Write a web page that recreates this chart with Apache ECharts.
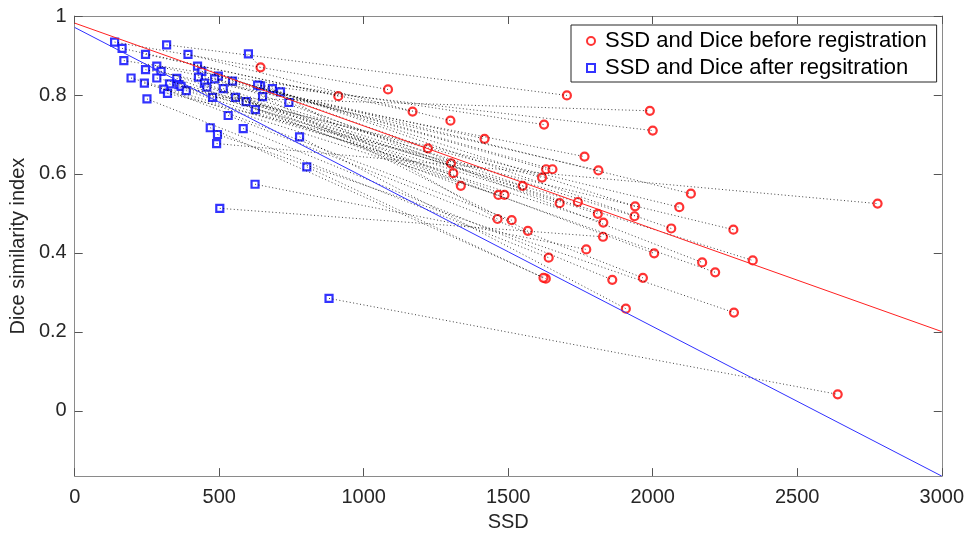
<!DOCTYPE html>
<html>
<head>
<meta charset="utf-8">
<title>SSD vs Dice</title>
<script src="https://cdn.jsdelivr.net/npm/echarts@6.0.0/dist/echarts.min.js"></script>
<style>
  html, body { margin: 0; padding: 0; background: #fff; }
  #myCharts { width: 967px; height: 537px; }
</style>
</head>
<body>
<div id="myCharts"></div>
<script>
// 配对数据: 配准后(蓝) -> 配准前(红), 同一下标为一对
var afterSSD = [138, 318, 164, 245, 392, 170, 284, 425, 245, 299,
  440, 497, 428, 195, 284, 353, 484, 241, 449, 328,
  360, 643, 368, 457, 514, 684, 308, 386, 712, 321,
  650, 556, 250, 593, 741, 625, 531, 469, 583, 494,
  601, 880, 778, 803, 624, 502, 633, 546, 477, 491]
var afterDice = [0.934, 0.927, 0.918, 0.903, 0.903, 0.887, 0.873, 0.873, 0.864, 0.860,
  0.860, 0.848, 0.845, 0.843, 0.843, 0.842, 0.841, 0.830, 0.830, 0.828,
  0.826, 0.823, 0.822, 0.820, 0.816, 0.816, 0.815, 0.811, 0.808, 0.804,
  0.796, 0.794, 0.790, 0.783, 0.781, 0.763, 0.748, 0.717, 0.715, 0.700,
  0.904, 0.285, 0.694, 0.618, 0.574, 0.513, 0.825, 0.835, 0.794, 0.677]
var beforeSSD = [1084, 1703, 912, 1169, 1300, 1624, 1418, 1222, 1764, 1302,
  1631, 1653, 1812, 1310, 1617, 1336, 1550, 1466, 1487, 1741,
  1678, 1939, 2092, 1810, 1937, 1463, 1512, 1829, 2064, 2279,
  1568, 2005, 1640, 2346, 2171, 2216, 1966, 1630, 1860, 2281,
  643, 2640, 1907, 1622, 1770, 1828, 2000, 2132, 1990, 2778]
var beforeDice = [0.814, 0.799, 0.797, 0.758, 0.735, 0.725, 0.689, 0.665, 0.644, 0.627,
  0.612, 0.612, 0.609, 0.602, 0.591, 0.570, 0.570, 0.547, 0.547, 0.529,
  0.526, 0.518, 0.516, 0.499, 0.493, 0.486, 0.483, 0.477, 0.462, 0.459,
  0.456, 0.399, 0.388, 0.381, 0.376, 0.351, 0.337, 0.335, 0.332, 0.249,
  0.870, 0.042, 0.259, 0.337, 0.409, 0.441, 0.710, 0.550, 0.760, 0.525]
// 拟合直线端点
var fitX = [0, 3000]
var fitBefore = [0.982, 0.201]
var fitAfter = [0.971, -0.165]
// 刻度
var yTicks = [0, 0.2, 0.4, 0.6, 0.8, 1]

var myCharts = echarts.init(document.getElementById('myCharts'))
var font = 'Liberation Sans, Arial, sans-serif'

var beforePts = beforeSSD.map(function (v, i) { return [v, beforeDice[i]] })
var afterPts = afterSSD.map(function (v, i) { return [v, afterDice[i]] })
var pairLines = afterPts.map(function (p, i) {
  return { coords: [p, beforePts[i]] }
})

var axisLineStyle = { color: '#8a8a8a', width: 1 }
var tickStyle = { color: '#555', width: 1 }
// 正方形图标(保持比例)
var squareIcon = 'path://M0,0H10V10H0Z'

var options = {
  animation: false,
  backgroundColor: '#fff',
  textStyle: { fontFamily: font },
  grid: { left: 72, right: 25, top: 16, bottom: 59 },
  legend: {
    orient: 'vertical',
    left: 571,
    top: 25,
    padding: [5, 10, 3, 15],
    itemWidth: 18,
    itemHeight: 8,
    itemGap: 5,
    backgroundColor: '#fff',
    borderColor: '#262626',
    borderWidth: 1,
    textStyle: { fontSize: 22, color: '#000', fontFamily: font },
    data: [
      { name: 'SSD and Dice before registration', icon: 'circle' },
      { name: 'SSD and Dice after regsitration', icon: squareIcon }
    ]
  },
  xAxis: [
    {
      type: 'value',
      min: 0,
      max: 3000,
      interval: 500,
      name: 'SSD',
      nameLocation: 'middle',
      nameGap: 28,
      nameTextStyle: { fontSize: 20, color: '#262626', fontFamily: font },
      axisLine: { show: true, onZero: false, lineStyle: axisLineStyle },
      axisTick: { show: true, inside: true, length: 8, lineStyle: tickStyle },
      axisLabel: {
        fontSize: 20,
        color: '#262626',
        margin: 11,
        fontFamily: font,
        formatter: function (v) { return String(v) }
      },
      splitLine: { show: false }
    },
    {
      type: 'value',
      position: 'top',
      min: 0,
      max: 3000,
      interval: 500,
      axisLine: { show: true, onZero: false, lineStyle: axisLineStyle },
      axisTick: { show: true, inside: true, length: 8, lineStyle: tickStyle },
      axisLabel: { show: false },
      splitLine: { show: false }
    }
  ],
  yAxis: [
    {
      type: 'value',
      min: -0.165,
      max: 1,
      name: 'Dice similarity index',
      nameLocation: 'middle',
      nameGap: 38,
      nameTextStyle: { fontSize: 20, color: '#262626', fontFamily: font },
      axisLine: { show: true, onZero: false, lineStyle: axisLineStyle },
      axisTick: { show: true, inside: true, length: 8, lineStyle: tickStyle, customValues: yTicks },
      axisLabel: { fontSize: 20, color: '#262626', margin: 8, fontFamily: font, customValues: yTicks },
      splitLine: { show: false }
    },
    {
      type: 'value',
      position: 'right',
      min: -0.165,
      max: 1,
      axisLine: { show: true, onZero: false, lineStyle: axisLineStyle },
      axisTick: { show: true, inside: true, length: 8, lineStyle: tickStyle, customValues: yTicks },
      axisLabel: { show: false, customValues: yTicks },
      splitLine: { show: false }
    }
  ],
  series: [
    {
      name: 'SSD and Dice before registration',
      type: 'scatter',
      symbol: 'circle',
      symbolSize: 8,
      itemStyle: { color: '#fff', borderColor: '#ff0000', borderWidth: 2.2 },
      data: beforePts,
      z: 2
    },
    {
      name: 'SSD and Dice after regsitration',
      type: 'scatter',
      symbol: 'rect',
      symbolSize: 7,
      itemStyle: { color: '#fff', borderColor: '#0000ff', borderWidth: 2.2 },
      data: afterPts,
      z: 2
    },
    {
      // 配对虚线
      type: 'lines',
      coordinateSystem: 'cartesian2d',
      xAxisIndex: 0,
      yAxisIndex: 0,
      silent: true,
      lineStyle: { color: '#000', width: 1, opacity: 0.75, type: [1, 2.5] },
      data: pairLines,
      z: 3
    },
    {
      type: 'line',
      symbol: 'none',
      lineStyle: { color: '#ff2020', width: 1 },
      data: fitX.map(function (v, i) { return [v, fitBefore[i]] }),
      z: 4
    },
    {
      type: 'line',
      symbol: 'none',
      lineStyle: { color: '#3030ff', width: 1 },
      data: fitX.map(function (v, i) { return [v, fitAfter[i]] }),
      z: 4
    }
  ]
}
myCharts.setOption(options)
</script>
</body>
</html>
